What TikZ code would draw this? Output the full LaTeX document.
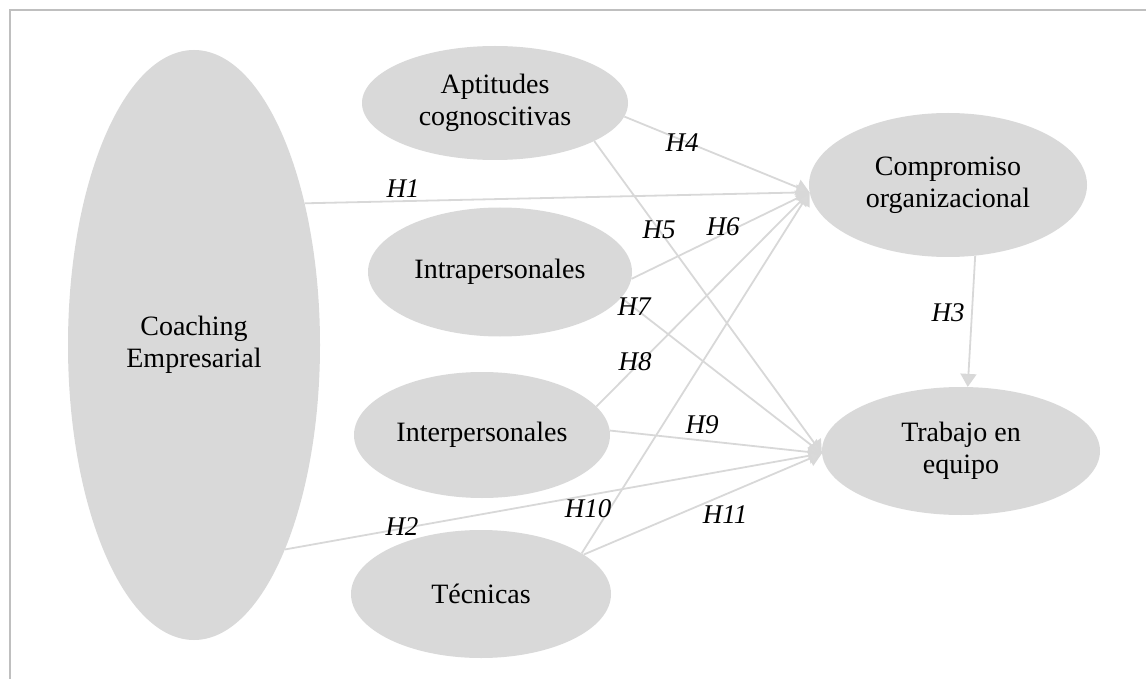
\documentclass[tikz,border=0pt]{standalone}
\usepackage{fontspec}
\setmainfont{Liberation Serif}
\usetikzlibrary{arrows.meta,shapes.geometric}
\definecolor{nodegray}{HTML}{D9D9D9}
\definecolor{linegray}{HTML}{D8D8D8}
\definecolor{framegray}{HTML}{BFBFBF}
\begin{document}
\begin{tikzpicture}[x=1pt,y=-1pt,
  construct/.style={ellipse, fill=nodegray, inner sep=0pt, align=center,
    font=\fontsize{28}{32}\selectfont},
  link/.style={draw=linegray, line width=1.8pt,
    -{Triangle[width=16pt,length=13pt,fill=nodegray]}},
  hyp/.style={font=\fontsize{27}{30}\selectfont\itshape, inner sep=0pt}]
\useasboundingbox (0,0) rectangle (1146,679);

% open frame: top and left edges
\draw[framegray, line width=2pt] (9.5,679) -- (9.5,10) -- (1146,10);

% constructs
\node[construct, minimum width=252pt, minimum height=590pt] (coach) at (194,345) {Coaching\\Empresarial};
\node[construct, minimum width=266pt, minimum height=114pt] (apt) at (495,103) {Aptitudes\\cognoscitivas};
\node[construct, minimum width=264pt, minimum height=129pt] (intra) at (500,272) {Intrapersonales};
\node[construct, minimum width=256pt, minimum height=126pt] (inter) at (482,435) {Interpersonales};
\node[construct, minimum width=260pt, minimum height=128pt] (tec) at (481,594) {Técnicas};
\node[construct, minimum width=278pt, minimum height=144pt] (comp) at (948,185) {Compromiso\\organizacional};
\node[construct, minimum width=278pt, minimum height=128pt] (team) at (961,451) {Trabajo en\\equipo};

% hypothesised paths
\draw[link] (coach.52.6) -- (comp.183);
\draw[link] (coach.-66.3) -- (team.181);
\draw[link] (comp.-69.4) -- (team.84.6);
\draw[link] (apt.-6.7) -- (comp.183);
\draw[link] (apt.-21.9) -- (team.181);
\draw[link] (intra.-3.5) -- (comp.183);
\draw[link] (intra.-12.7) -- (team.181);
\draw[link] (inter.14.6) -- (comp.183);
\draw[link] (inter.2.7) -- (team.181);
\draw[link] (tec.22.6) -- (comp.183);
\draw[link] (tec.21.6) -- (team.181);

% hypothesis labels
\node[hyp] (h1) at (403,189) {H1};
\node[hyp] (h2) at (402,527) {H2};
\node[hyp] (h3) at (948,313) {H3};
\node[hyp] (h4) at (682,143) {H4};
\node[hyp] (h5) at (659,230) {H5};
\node[hyp] (h6) at (723,227) {H6};
\node[hyp] (h7) at (634,307) {H7};
\node[hyp] (h8) at (635,362) {H8};
\node[hyp] (h9) at (702,425) {H9};
\node[hyp] (h10) at (588,509) {H10};
\node[hyp] (h11) at (725,515) {H11};
\end{tikzpicture}
\end{document}
